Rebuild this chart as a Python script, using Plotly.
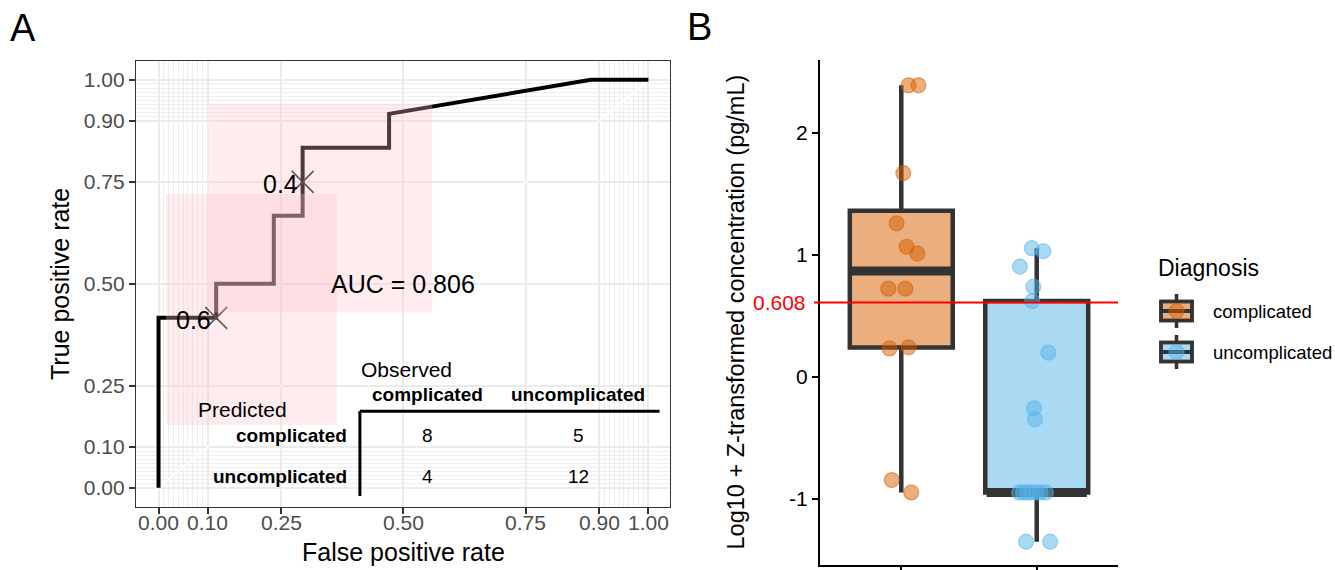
import numpy as np
import plotly.graph_objects as go

# ---------------- data ----------------
groups = ["complicated", "uncomplicated"]
comp_values = [2.39, 2.39, 1.67, 1.258, 1.066, 1.01, 0.722, 0.722, 0.241, 0.232, -0.848, -0.95]
comp_jitter = [0.054, 0.127, 0.015, -0.035, 0.039, 0.119, -0.096, 0.030, 0.054, -0.087, -0.070, 0.074]
uncomp_values = [1.054, 1.03, 0.903, 0.738, 0.62, 0.197, -0.259, -0.349,
                 -0.95, -0.95, -0.95, -0.95, -0.95, -0.95, -0.95, -1.354, -1.354]
uncomp_jitter = [-0.037, 0.049, -0.124, -0.025, -0.033, 0.086, -0.020, -0.013,
                 -0.130, -0.101, -0.072, -0.042, -0.005, 0.027, 0.068, -0.079, 0.099]
cutoff_value = 0.608

# cutoff labels shown on ROC curve (FPR, TPR)
cutoff_labels = ["0.6", "0.4"]
cutoff_fpr = [2 / 17, 5 / 17]
cutoff_tpr = [5 / 12, 9 / 12]
# confidence regions at those cutoffs
ci_fpr_lo = [0.0153, 0.1037]
ci_fpr_hi = [0.3645, 0.5588]
ci_tpr_lo = [0.1537, 0.430]
ci_tpr_hi = [0.720, 0.942]

axis_breaks = [0, 0.1, 0.25, 0.5, 0.75, 0.9, 1.0]
axis_labels = ["0.00", "0.10", "0.25", "0.50", "0.75", "0.90", "1.00"]
minor_breaks = [round(0.01 * i, 2) for i in range(0, 11)] + [round(0.9 + 0.01 * i, 2) for i in range(0, 11)]

boxy_ticks = [-1, 0, 1, 2]
boxy_labels = ["-1", "0", "1", "2"]

# ---------------- computations ----------------
comp = np.array(comp_values)
unc = np.array(uncomp_values)
thr = np.sort(np.unique(np.concatenate([comp, unc])))[::-1]
roc_fpr = [0.0] + [float(np.mean(unc >= t)) for t in thr]
roc_tpr = [0.0] + [float(np.mean(comp >= t)) for t in thr]
auc = float(np.trapezoid(roc_tpr, roc_fpr)) if hasattr(np, "trapezoid") else float(np.trapz(roc_tpr, roc_fpr))

tp = int(np.sum(comp >= cutoff_value)); fn = int(np.sum(comp < cutoff_value))
fp = int(np.sum(unc >= cutoff_value)); tn = int(np.sum(unc < cutoff_value))


def box_stats(v):
    v = np.asarray(v)
    q1, med, q3 = np.percentile(v, [25, 50, 75])
    iqr = q3 - q1
    lo = v[v >= q1 - 1.5 * iqr].min()
    hi = v[v <= q3 + 1.5 * iqr].max()
    return q1, med, q3, lo, hi


W, H = 1335, 570
FONT = "Liberation Sans, Arial, sans-serif"


def px(xp):
    return xp / W


def py(yp):
    return 1 - yp / H


fig = go.Figure()

# ---------------- Panel A ----------------
fig.add_trace(go.Scatter(x=roc_fpr, y=roc_tpr, mode="lines",
                         line=dict(color="black", width=4), xaxis="x", yaxis="y",
                         showlegend=False, hoverinfo="skip"))
fig.add_trace(go.Scatter(x=cutoff_fpr, y=cutoff_tpr, mode="markers",
                         marker=dict(symbol="x-thin", size=22, color="#222",
                                     line=dict(color="#222", width=1.5)),
                         xaxis="x", yaxis="y", showlegend=False, hoverinfo="skip"))

shapes = []
annotations = []
# white diagonal reference line
shapes.append(dict(type="line", xref="x", yref="y", x0=0, y0=0, x1=1, y1=1,
                   line=dict(color="white", width=1.6), layer="between"))
# CI rectangles
for a, b, c, d in zip(ci_fpr_lo, ci_fpr_hi, ci_tpr_lo, ci_tpr_hi):
    shapes.append(dict(type="rect", xref="x", yref="y", x0=a, x1=b, y0=c, y1=d,
                       fillcolor="rgba(255,192,203,0.3)", line=dict(width=0), layer="above"))
# cutoff labels
for lab, fx, ty in zip(cutoff_labels, cutoff_fpr, cutoff_tpr):
    annotations.append(dict(x=fx, y=ty, xref="x", yref="y", text=lab, showarrow=False,
                            xanchor="right", yanchor="middle", xshift=-3, yshift=-2,
                            font=dict(size=25, color="black", family=FONT)))
annotations.append(dict(x=0.5, y=0.5, xref="x", yref="y", text="AUC = %.3f" % auc,
                        showarrow=False, xanchor="center", yanchor="middle",
                        font=dict(size=25, color="black", family=FONT)))

# x tick labels of panel A (placed close to the ticks)
for b, lab in zip(axis_breaks, axis_labels):
    annotations.append(dict(x=b, y=py(522), xref="x", yref="paper", text=lab, showarrow=False,
                            xanchor="center", yanchor="middle",
                            font=dict(size=21, color="#4D4D4D", family=FONT)))

# confusion table
tfont = dict(size=21, color="black", family=FONT)
bfont = dict(size=19, color="black", family=FONT, weight="bold")
nfont = dict(size=19, color="black", family=FONT)
annotations.append(dict(x=0.409, y=0.291, xref="x", yref="y", text="Observed", showarrow=False,
                        xanchor="left", yanchor="middle", font=tfont))
annotations.append(dict(x=0.0765, y=0.193, xref="x", yref="y", text="Predicted", showarrow=False,
                        xanchor="left", yanchor="middle", font=tfont))
col_x = [0.55, 0.857]
row_y = [0.129, 0.029]
for g, cx in zip(groups, col_x):
    annotations.append(dict(x=cx, y=0.230, xref="x", yref="y", text="<b>%s</b>" % g, showarrow=False,
                            xanchor="center", yanchor="middle", font=bfont))
for g, ry in zip(groups, row_y):
    annotations.append(dict(x=0.3896, y=ry, xref="x", yref="y", text="<b>%s</b>" % g, showarrow=False,
                            xanchor="right", yanchor="middle", font=bfont))
cells = [[tp, fp], [fn, tn]]
for i, ry in enumerate(row_y):
    for j, cx in enumerate(col_x):
        annotations.append(dict(x=cx, y=ry, xref="x", yref="y", text=str(cells[i][j]), showarrow=False,
                                xanchor="center", yanchor="middle", font=nfont))
shapes.append(dict(type="line", xref="x", yref="y", x0=0.411, x1=1.0227, y0=0.188, y1=0.188,
                   line=dict(color="black", width=3), layer="above"))
shapes.append(dict(type="line", xref="x", yref="y", x0=0.411, x1=0.411, y0=0.188, y1=-0.020,
                   line=dict(color="black", width=3), layer="above"))

# axis titles A
annotations.append(dict(x=px(403), y=py(552), xref="paper", yref="paper", text="False positive rate",
                        showarrow=False, xanchor="center", yanchor="middle",
                        font=dict(size=25, color="black", family=FONT)))
annotations.append(dict(x=px(60), y=py(284), xref="paper", yref="paper", text="True positive rate",
                        showarrow=False, xanchor="center", yanchor="middle", textangle=-90,
                        font=dict(size=25, color="black", family=FONT)))

# ---------------- Panel B ----------------
fills = ["rgba(213,94,0,0.5)", "rgba(86,180,233,0.5)"]
pts = ["rgba(213,94,0,0.5)", "rgba(86,180,233,0.5)"]
box_w = 0.76
for k, (vals, jit) in enumerate([(comp_values, comp_jitter), (uncomp_values, uncomp_jitter)]):
    q1, med, q3, lo, hi = box_stats(vals)
    xc = k + 1
    fig.add_trace(go.Box(x=[xc], q1=[q1], median=[med], q3=[q3], lowerfence=[lo], upperfence=[hi],
                         width=box_w, fillcolor=fills[k], line=dict(color="#333333", width=4.5),
                         whiskerwidth=0, boxpoints=False, xaxis="x2", yaxis="y2",
                         showlegend=False, hoverinfo="skip"))
    fig.add_trace(go.Scatter(x=[xc - box_w / 2 + 0.01, xc + box_w / 2 - 0.01], y=[med, med], mode="lines",
                             line=dict(color="#333333", width=9), xaxis="x2", yaxis="y2",
                             showlegend=False, hoverinfo="skip"))
for k, (vals, jit) in enumerate([(comp_values, comp_jitter), (uncomp_values, uncomp_jitter)]):
    xc = k + 1
    fig.add_trace(go.Scatter(x=[xc + j for j in jit], y=vals, mode="markers",
                             marker=dict(size=15, color=pts[k], line=dict(color=pts[k], width=1.2)),
                             xaxis="x2", yaxis="y2", showlegend=False, hoverinfo="skip"))

# cutoff red line
shapes.append(dict(type="line", xref="paper", yref="y2", x0=px(814), x1=px(1118),
                   y0=cutoff_value, y1=cutoff_value, line=dict(color="red", width=2), layer="above"))
annotations.append(dict(x=px(808), y=cutoff_value, xref="paper", yref="y2", text="%.3f" % cutoff_value,
                        showarrow=False, xanchor="right", yanchor="middle",
                        font=dict(size=21, color="red", family=FONT)))
annotations.append(dict(x=px(735), y=py(312.5), xref="paper", yref="paper",
                        text="Log10 + Z-transformed concentration (pg/mL)",
                        showarrow=False, xanchor="center", yanchor="middle", textangle=-90,
                        font=dict(size=23.5, color="black", family=FONT)))

# legend (manual)
annotations.append(dict(x=px(1156), y=py(268), xref="paper", yref="paper", text="Diagnosis",
                        showarrow=False, xanchor="left", yanchor="middle",
                        font=dict(size=23, color="black", family=FONT)))
for k, (g, cy) in enumerate(zip(groups, [311, 352])):
    xc = 1176.5
    shapes.append(dict(type="line", xref="paper", yref="paper", x0=px(xc), x1=px(xc),
                       y0=py(cy - 17), y1=py(cy + 17), line=dict(color="#333333", width=3.5)))
    shapes.append(dict(type="rect", xref="paper", yref="paper", x0=px(1161), x1=px(1192),
                       y0=py(cy - 9.5), y1=py(cy + 9.5), fillcolor="white",
                       line=dict(color="#333333", width=3.5)))
    shapes.append(dict(type="rect", xref="paper", yref="paper", x0=px(1161), x1=px(1192),
                       y0=py(cy - 9.5), y1=py(cy + 9.5), fillcolor=fills[k],
                       line=dict(color="#333333", width=3.5)))
    shapes.append(dict(type="line", xref="paper", yref="paper", x0=px(1161), x1=px(1192),
                       y0=py(cy), y1=py(cy), line=dict(color="#333333", width=4)))
    shapes.append(dict(type="circle", xref="paper", yref="paper", x0=px(xc - 7.5), x1=px(xc + 7.5),
                       y0=py(cy - 7.5), y1=py(cy + 7.5), fillcolor=pts[k],
                       line=dict(color=pts[k], width=1.2)))
    annotations.append(dict(x=px(1211), y=py(cy), xref="paper", yref="paper", text=g,
                            showarrow=False, xanchor="left", yanchor="middle",
                            font=dict(size=18.5, color="black", family=FONT)))

# panel tags
annotations.append(dict(x=px(23), y=py(28), xref="paper", yref="paper", text="A", showarrow=False,
                        xanchor="center", yanchor="middle", font=dict(size=38, color="black", family=FONT)))
annotations.append(dict(x=px(700), y=py(27), xref="paper", yref="paper", text="B", showarrow=False,
                        xanchor="center", yanchor="middle", font=dict(size=38, color="black", family=FONT)))

axA = dict(tickmode="array", tickvals=axis_breaks, ticktext=axis_labels,
           showgrid=True, gridcolor="#EBEBEB", gridwidth=1.6, zeroline=False,
           showline=True, linecolor="#333333", linewidth=1.2, mirror=True,
           ticks="outside", ticklen=6, tickwidth=1.6, tickcolor="#333333",
           tickfont=dict(size=21, color="#4D4D4D", family=FONT),
           minor=dict(tickvals=minor_breaks, showgrid=True, gridcolor="#EEEEEE", gridwidth=0.9, ticks=""))

fig.update_layout(
    width=W, height=H, margin=dict(l=0, r=0, t=0, b=0),
    paper_bgcolor="white", plot_bgcolor="white", showlegend=False,
    font=dict(family=FONT),
    xaxis=dict(axA, domain=[px(136), px(670)], range=[-0.046, 1.044], anchor="y", showticklabels=False),
    yaxis=dict(axA, domain=[py(507), py(60.7)], range=[-0.047, 1.047], anchor="x"),
    xaxis2=dict(domain=[px(820), px(1118)], range=[0.4, 2.6], anchor="y2",
                tickmode="array", tickvals=[1, 2], ticktext=["", ""],
                showgrid=False, zeroline=False, showline=True, linecolor="black", linewidth=2,
                ticks="outside", ticklen=6, tickwidth=2, tickcolor="black"),
    yaxis2=dict(domain=[py(565), py(60)], range=[-1.545, 2.598], anchor="x2",
                tickmode="array", tickvals=boxy_ticks, ticktext=boxy_labels,
                showgrid=False, zeroline=False, showline=True, linecolor="black", linewidth=2,
                ticks="outside", ticklen=6, tickwidth=2, tickcolor="black",
                tickfont=dict(size=21, color="black", family=FONT)),
    shapes=shapes, annotations=annotations,
)

fig.write_html("out.html")
